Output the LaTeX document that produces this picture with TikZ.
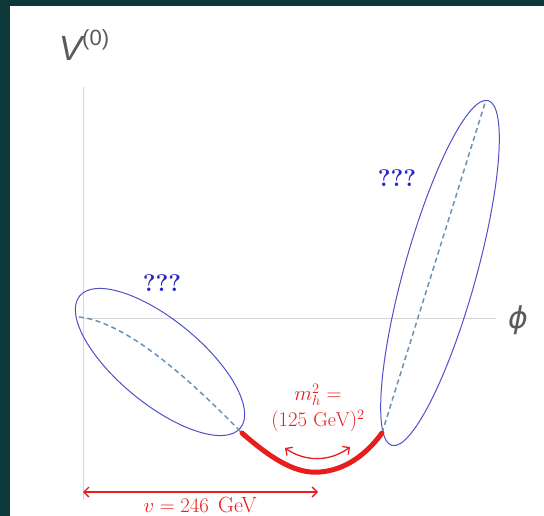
\documentclass[tikz,border=0pt]{standalone}
\usepackage{fontspec}
\newfontfamily\axisfont{Liberation Sans}
\newfontfamily\phifont{DejaVu Sans}
\usetikzlibrary{arrows.meta}
\definecolor{frame}{HTML}{0E3838}
\definecolor{axisgray}{HTML}{D6D6D6}
\definecolor{labelgray}{HTML}{5A5A5A}
\definecolor{ellblue}{HTML}{5050C8}
\definecolor{dashblue}{HTML}{6A92B4}
\definecolor{hred}{HTML}{E81E1E}
\definecolor{qblue}{HTML}{2626C8}
\tikzset{
  axisline/.style={draw=axisgray, line width=0.9pt},
  ellipseline/.style={draw=ellblue, line width=1pt},
  dashline/.style={draw=dashblue, line width=1.5pt, dash pattern=on 5pt off 3.5pt},
  potential/.style={draw=hred, line width=5pt},
  redarrow/.style={draw=hred, line width=1.3pt, {Straight Barb[length=5pt,width=10pt]}-{Straight Barb[length=5pt,width=10pt]}},
  qlabel/.style={text=qblue, font=\fontsize{24}{26}\selectfont\bfseries},
  redlabel/.style={text=hred, font=\fontsize{20}{22}\selectfont, inner sep=0pt},
}
\begin{document}
\begin{tikzpicture}[x=1pt, y=-1pt]
\useasboundingbox (0,0) rectangle (544,516);
\fill[frame] (0,0) rectangle (544,516);
\fill[white] (10,6) rectangle (544,516);
% axes
\coordinate (o) at (83,318);
\coordinate (ytop) at (83,87);
\coordinate (ybot) at (83,500);
\coordinate (xend) at (496,318);
\draw[axisline] (ybot) -- (ytop);
\draw[axisline] (o) -- (xend);
\node[text=labelgray, font=\axisfont\fontsize{35}{37}\selectfont] (vlab) at (84,45) {\itshape V\raisebox{0.45em}{\fontsize{22}{24}\selectfont\upshape (0)}};
\node[text=labelgray, font=\phifont\fontsize{30}{32}\selectfont] (philab) at (518,320) {\itshape ϕ};
% key points
\coordinate (lstart) at (79,317);
\coordinate (vmin1) at (242,433);
\coordinate (vmin2) at (382,433);
\coordinate (rtop) at (485,103);
\coordinate (bottom) at (320,472);
% ellipses
\draw[ellipseline, rotate around={-39.4:(160,362)}] (160,362) ellipse [x radius=104pt, y radius=42pt];
\draw[ellipseline, rotate around={74.4:(440,273)}] (440,273) ellipse [x radius=179pt, y radius=36pt];
% dashed continuations
\draw[dashline] (lstart) .. controls (130,322) and (200,390) .. (vmin1);
\draw[dashline] (vmin2) -- (rtop);
% potential well
\draw[potential, line cap=round] (vmin1) .. controls (275,462) and (298,474) .. (bottom) .. controls (345,470) and (366,455) .. (vmin2);
% curvature arrow
\coordinate (ca) at (285,448);
\coordinate (cb) at (350,447);
\draw[redarrow] (ca) .. controls (305,462) and (330,462) .. (cb);
\node[redlabel] (mh1) at (318,395) {$m_h^2 =$};
\node[redlabel] (mh2) at (318,421) {$(125\ \mathrm{GeV})^2$};
% vev arrow
\coordinate (va) at (83,492);
\coordinate (vb) at (318,492);
\draw[redarrow] (va) -- (vb);
\node[text=hred, font=\fontsize{22}{24}\selectfont, inner sep=0pt, anchor=base] (vlabel) at (200,512) {$v = 246$\hspace{9pt}GeV};
% question marks
\node[qlabel] (q1) at (162,283) {???};
\node[qlabel] (q2) at (397,178) {???};
\end{tikzpicture}
\end{document}
